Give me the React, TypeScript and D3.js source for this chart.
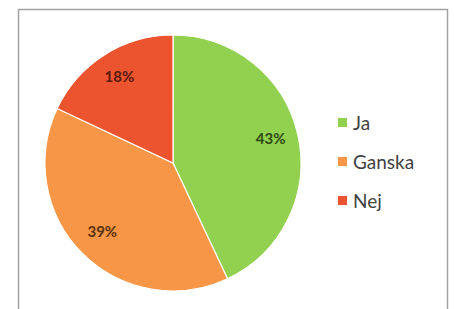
import { useRef, useEffect } from 'react';
import * as d3 from 'd3';

const categories = ['Ja', 'Ganska', 'Nej'];
const values = [43, 39, 18];
const colors = ['#92d050', '#f79646', '#ec5430'];
const labelColors = ['#2e4a12', '#5a3210', '#5a1a0c'];

const W = 454;
const H = 309;

export default function App() {
  const svgRef = useRef<SVGSVGElement>(null);

  useEffect(() => {
    if (!svgRef.current) return;
    const svg = d3.select(svgRef.current);
    svg.selectAll('*').remove();

    svg.append('rect').attr('width', W).attr('height', H).attr('fill', '#fff');

    // frame
    svg
      .append('rect')
      .attr('x', 18.5)
      .attr('y', 9.5)
      .attr('width', 429)
      .attr('height', 320)
      .attr('fill', '#fff')
      .attr('stroke', '#a3a3a3')
      .attr('stroke-width', 1.5);

    const cx = 173;
    const cy = 163;
    const R = 128;

    const pie = d3.pie<number>().sort(null).value((d) => d);
    const arcs = pie(values);
    const arc = d3.arc<d3.PieArcDatum<number>>().innerRadius(0).outerRadius(R);
    const labelArc = d3.arc<d3.PieArcDatum<number>>().innerRadius(100).outerRadius(100);

    const g = svg.append('g').attr('transform', `translate(${cx},${cy})`);

    g.selectAll('path')
      .data(arcs)
      .join('path')
      .attr('d', arc)
      .attr('fill', (_, i) => colors[i])
      .attr('stroke', '#fff')
      .attr('stroke-width', 1.2);

    g.selectAll('text')
      .data(arcs)
      .join('text')
      .attr('transform', (d) => {
        const [x, y] = labelArc.centroid(d);
        return `translate(${x},${y - 3})`;
      })
      .attr('text-anchor', 'middle')
      .attr('dominant-baseline', 'central')
      .attr('font-family', 'Lato, sans-serif')
      .attr('font-size', '15px')
      .attr('font-weight', 'bold')
      .attr('fill', (_, i) => labelColors[i])
      .text((d) => `${d.data}%`);

    // legend
    const legendY = d3.scalePoint<string>().domain(categories).range([122, 200]);
    const lg = svg.append('g');
    categories.forEach((c, i) => {
      const y = legendY(c) ?? 0;
      lg.append('rect')
        .attr('x', 338)
        .attr('y', y - 4)
        .attr('width', 9)
        .attr('height', 9)
        .attr('fill', colors[i]);
      lg.append('text')
        .attr('x', 353)
        .attr('y', y)
        .attr('dominant-baseline', 'central')
        .attr('font-family', 'Lato, sans-serif')
        .attr('font-size', '19px')
        .attr('fill', '#3f3f3f')
        .text(c);
    });
  }, []);

  return (
    <svg
      ref={svgRef}
      width={W}
      height={H}
      style={{ position: 'absolute', left: 0, top: 0 }}
    />
  );
}
